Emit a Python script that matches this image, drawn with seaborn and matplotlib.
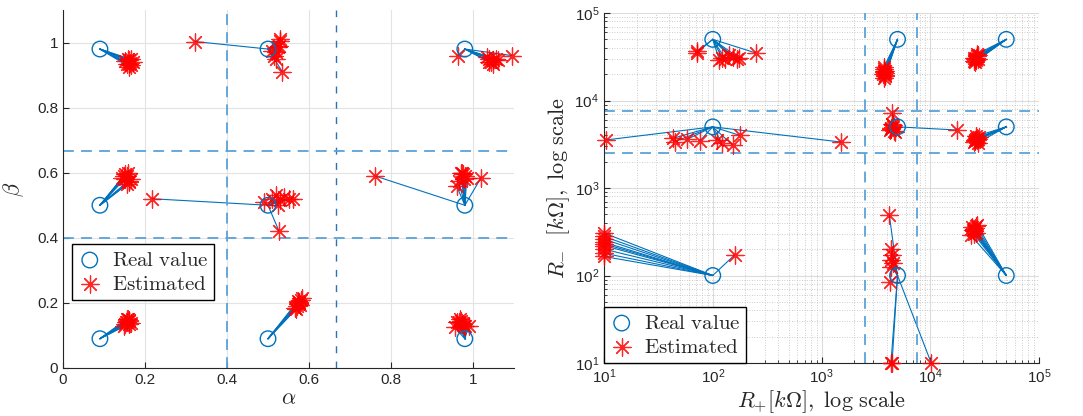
import numpy as np
import pandas as pd
import seaborn as sns
import matplotlib.pyplot as plt

# real parameter values (alpha, beta) and estimated ones, 10 estimates per real point
alpha_real = [0.09, 0.5, 0.98, 0.09, 0.5, 0.98, 0.09, 0.5, 0.98]
beta_real = [0.98, 0.98, 0.98, 0.5, 0.5, 0.5, 0.09, 0.09, 0.09]

alpha_est = [
    [0.155, 0.160, 0.165, 0.158, 0.170, 0.162, 0.150, 0.167, 0.160, 0.163],
    [0.322, 0.520, 0.530, 0.535, 0.515, 0.525, 0.510, 0.529, 0.520, 0.528],
    [0.963, 1.040, 1.050, 1.045, 1.055, 1.035, 1.060, 1.095, 1.050, 1.040],
    [0.150, 0.155, 0.160, 0.145, 0.158, 0.162, 0.152, 0.165, 0.148, 0.157],
    [0.217, 0.490, 0.510, 0.520, 0.530, 0.540, 0.550, 0.560, 0.525, 0.527],
    [0.761, 0.970, 0.975, 0.980, 0.985, 0.965, 0.960, 1.020, 0.978, 0.972],
    [0.150, 0.155, 0.160, 0.158, 0.165, 0.148, 0.162, 0.153, 0.157, 0.160],
    [0.570, 0.575, 0.580, 0.565, 0.578, 0.572, 0.568, 0.582, 0.574, 0.576],
    [0.955, 0.965, 0.970, 0.975, 0.980, 0.990, 0.968, 0.972, 0.962, 0.978],
]
beta_est = [
    [0.935, 0.945, 0.930, 0.950, 0.940, 0.925, 0.942, 0.948, 0.933, 0.938],
    [1.003, 0.970, 1.005, 0.910, 0.960, 0.985, 0.975, 1.012, 0.950, 0.990],
    [0.960, 0.950, 0.945, 0.940, 0.950, 0.955, 0.945, 0.960, 0.935, 0.940],
    [0.580, 0.590, 0.575, 0.585, 0.600, 0.570, 0.595, 0.580, 0.590, 0.565],
    [0.520, 0.510, 0.520, 0.530, 0.515, 0.525, 0.520, 0.520, 0.500, 0.420],
    [0.590, 0.600, 0.595, 0.590, 0.585, 0.575, 0.560, 0.585, 0.580, 0.600],
    [0.135, 0.140, 0.145, 0.150, 0.138, 0.130, 0.148, 0.142, 0.152, 0.136],
    [0.190, 0.200, 0.210, 0.185, 0.195, 0.205, 0.180, 0.215, 0.198, 0.202],
    [0.125, 0.140, 0.145, 0.135, 0.130, 0.130, 0.150, 0.138, 0.142, 0.128],
]

# real resistances R+, R- [kOhm] and estimates
rp_real = [100, 5000, 50000, 100, 5000, 50000, 100, 5000, 50000]
rm_real = [50000, 50000, 50000, 5000, 5000, 5000, 100, 100, 100]

rp_est = [
    [71, 72, 115, 121, 130, 140, 155, 166, 175, 248],
    [3700, 3750, 3800, 3850, 3780, 3720, 3820, 3760, 3740, 3800],
    [25000, 26000, 27000, 26500, 25500, 27500, 26200, 25800, 26800, 27200],
    [10.4, 43, 45, 58, 76, 109, 121, 152, 177, 1525],
    [4480, 4300, 4400, 4500, 4600, 4700, 4550, 4350, 17700, 4450],
    [26000, 27000, 25500, 26500, 27500, 28000, 26800, 25800, 27200, 26300],
    [10, 10, 10, 10, 10, 10, 10, 10, 10, 159],
    [4200, 4400, 4450, 4350, 4500, 4400, 4300, 4350, 4450, 10200],
    [24500, 25000, 26000, 27000, 23500, 25500, 26500, 24000, 25200, 26200],
]
rm_est = [
    [34900, 36500, 29000, 31000, 30000, 33000, 31500, 29500, 30500, 35000],
    [20000, 21000, 22000, 19000, 23000, 18000, 20500, 21500, 24000, 19500],
    [28000, 30000, 32000, 29000, 31000, 33000, 30500, 27500, 34000, 29500],
    [3540, 3700, 3400, 3600, 3450, 3500, 3300, 3100, 4000, 3350],
    [7200, 4600, 4800, 5000, 4500, 4400, 5200, 4700, 4600, 5400],
    [3500, 3700, 3400, 3600, 3300, 3800, 3550, 3450, 3650, 3900],
    [306, 280, 260, 240, 230, 220, 200, 180, 165, 172],
    [491, 200, 170, 150, 140, 125, 84, 10, 10, 10],
    [330, 300, 350, 380, 290, 340, 310, 360, 320, 370],
]

# region boundaries
alpha_lim = [0.4, 0.667]
r_lim = [2500, 7500]

blue = '#0072BD'
light_blue = '#5aa2d8'

sns.set_style('white')
plt.rcParams['font.family'] = ['Liberation Sans', 'DejaVu Sans']
plt.rcParams['mathtext.fontset'] = 'cm'


def segments(xr, yr, xe, ye):
    # one row pair per real->estimate segment
    rows = []
    k = 0
    for i in range(len(xr)):
        for j in range(len(xe[i])):
            rows.append((k, xr[i], yr[i]))
            rows.append((k, xe[i][j], ye[i][j]))
            k += 1
    return pd.DataFrame(rows, columns=['seg', 'x', 'y'])


def draw(ax, xr, yr, xe, ye):
    seg = segments(xr, yr, xe, ye)
    sns.lineplot(data=seg, x='x', y='y', units='seg', estimator=None, sort=False,
                 color=blue, linewidth=0.8, ax=ax, legend=False)
    est = pd.DataFrame({'x': np.concatenate(xe), 'y': np.concatenate(ye)})
    real = pd.DataFrame({'x': xr, 'y': yr})
    sns.scatterplot(data=real, x='x', y='y', marker='o', s=125, facecolor='none',
                    edgecolor=blue, linewidth=1.0, ax=ax, label=r'$\mathrm{Real\ value}$',
                    zorder=4, clip_on=False)
    sns.scatterplot(data=est, x='x', y='y', marker=(8, 2, 0), s=150, color='red',
                    edgecolor='red', linewidth=0.9, alpha=0.85, ax=ax,
                    label=r'$\mathrm{Estimated}$', zorder=3, clip_on=False)


def style(ax):
    for s in ['top', 'right']:
        ax.spines[s].set_visible(False)
    for s in ['left', 'bottom']:
        ax.spines[s].set_color('#262626')
        ax.spines[s].set_linewidth(0.8)
    ax.tick_params(which='major', direction='in', bottom=True, left=True,
                   labelsize=11, colors='#262626', length=4, width=0.8)


def add_legend(ax, anchor):
    ax.legend(loc='lower left', bbox_to_anchor=anchor, fontsize=15,
              fancybox=False, edgecolor='black', framealpha=1, handletextpad=0.5,
              borderpad=0.3, labelspacing=0.25, handlelength=1.1, borderaxespad=0)


fig = plt.figure(figsize=(10.83, 4.16), dpi=100)
ax1 = fig.add_axes([0.0582, 0.1154, 0.4164, 0.8606])
ax2 = fig.add_axes([0.5577, 0.1274, 0.4017, 0.8413])

# left: alpha / beta
draw(ax1, alpha_real, beta_real, alpha_est, beta_est)
ax1.set_xlim(0, 1.1)
ax1.set_ylim(0, 1.1)
ax1.set_xticks([0, 0.2, 0.4, 0.6, 0.8, 1])
ax1.set_yticks([0, 0.2, 0.4, 0.6, 0.8, 1])
ax1.set_xticklabels(['0', '0.2', '0.4', '0.6', '0.8', '1'])
ax1.set_yticklabels(['0', '0.2', '0.4', '0.6', '0.8', '1'])
ax1.grid(True, color='#e3e3e3', linewidth=0.8)
ax1.axvline(alpha_lim[0], color=light_blue, linewidth=1.3, dashes=(6, 4))
ax1.axvline(alpha_lim[1], color='#2b73b4', linewidth=1.0, dashes=(5, 6))
ax1.axhline(alpha_lim[0], color=light_blue, linewidth=1.3, dashes=(6, 4))
ax1.axhline(alpha_lim[1], color=light_blue, linewidth=1.3, dashes=(6, 4))
ax1.set_xlabel(r'$\alpha$', fontsize=16, labelpad=1)
ax1.set_ylabel(r'$\beta$', fontsize=16, labelpad=8)
style(ax1)
add_legend(ax1, (0.02, 0.19))

# right: R+ / R-
draw(ax2, rp_real, rm_real, rp_est, rm_est)
ax2.set_xscale('log')
ax2.set_yscale('log')
ax2.set_xlim(10, 1e5)
ax2.set_ylim(10, 1e5)
ax2.grid(True, which='major', color='#dcdcdc', linewidth=0.8)
ax2.grid(True, which='minor', color='#bdbdbd', linewidth=0.6, linestyle=(0, (1, 2)))
ax2.axvline(r_lim[0], color=light_blue, linewidth=1.3, dashes=(6, 4))
ax2.axvline(r_lim[1], color=light_blue, linewidth=1.3, dashes=(6, 4))
ax2.axhline(r_lim[0], color=light_blue, linewidth=1.3, dashes=(6, 4))
ax2.axhline(r_lim[1], color=light_blue, linewidth=1.3, dashes=(6, 4))
ax2.set_xlabel(r'$R_{+}[k\Omega],\ \mathrm{log\ scale}$', fontsize=16, labelpad=1)
ax2.set_ylabel(r'$R_{\mathbf{-}}\ \ [k\Omega],\ \mathrm{log\ scale}$', fontsize=16, labelpad=2)
style(ax2)
ax2.tick_params(which='minor', direction='in', bottom=True, left=True,
                length=2, width=0.6, colors='#262626')
add_legend(ax2, (0.0, 0.0))

fig.savefig('out.png', dpi=100)
